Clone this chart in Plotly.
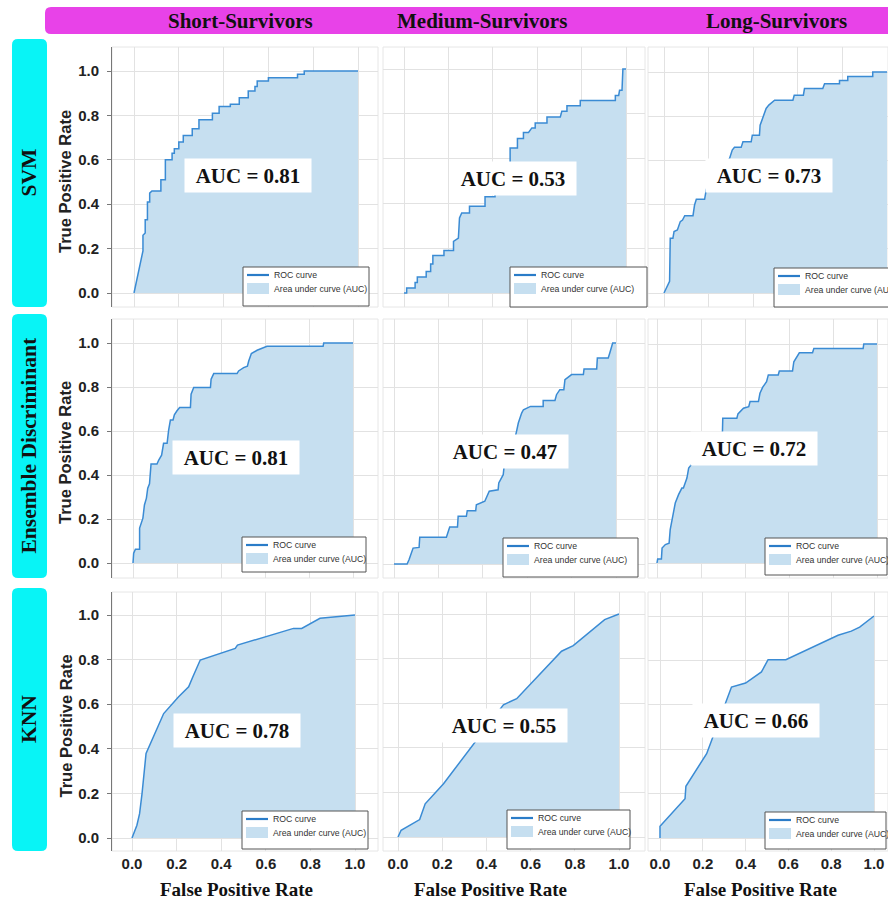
import plotly.graph_objects as go

W, H = 888, 901

# ---------------- data ----------------
row_labels = ["SVM", "Ensemble Discriminant", "KNN"]
col_labels = ["Short-Survivors", "Medium-Survivors", "Long-Survivors"]
auc_values = [[0.81, 0.53, 0.73],
              [0.81, 0.47, 0.72],
              [0.78, 0.55, 0.66]]
tick_vals = [0.0, 0.2, 0.4, 0.6, 0.8, 1.0]
tick_text = ["0.0", "0.2", "0.4", "0.6", "0.8", "1.0"]
x_title = "False Positive Rate"
y_title = "True Positive Rate"
legend_line_label = "ROC curve"
legend_area_label = "Area under curve (AUC)"

# ROC curves as (FPR, TPR) points
svm_short = [(0, 0), (0.04, 0.19), (0.04, 0.26), (0.05, 0.27), (0.05, 0.33), (0.06, 0.33),
             (0.06, 0.41), (0.07, 0.41), (0.07, 0.45), (0.08, 0.46), (0.12, 0.46), (0.12, 0.51),
             (0.14, 0.51), (0.14, 0.60), (0.17, 0.60), (0.17, 0.63), (0.18, 0.63), (0.18, 0.65),
             (0.20, 0.65), (0.20, 0.68), (0.22, 0.68), (0.22, 0.71), (0.26, 0.71), (0.26, 0.74),
             (0.29, 0.74), (0.29, 0.78), (0.35, 0.78), (0.35, 0.81), (0.38, 0.81), (0.38, 0.84),
             (0.43, 0.84), (0.43, 0.85), (0.47, 0.85), (0.47, 0.88), (0.51, 0.88), (0.51, 0.91),
             (0.54, 0.91), (0.54, 0.93), (0.55, 0.93), (0.55, 0.955), (0.60, 0.955), (0.60, 0.97),
             (0.73, 0.97), (0.73, 0.985), (0.76, 0.985), (0.76, 1.0), (1.0, 1.0)]
svm_medium = [(0, 0), (0.012, 0), (0.012, 0.022), (0.05, 0.022), (0.05, 0.047), (0.06, 0.047),
              (0.06, 0.071), (0.10, 0.071), (0.10, 0.096), (0.12, 0.096), (0.12, 0.13), (0.13, 0.13),
              (0.13, 0.167), (0.18, 0.167), (0.18, 0.19), (0.223, 0.19), (0.223, 0.23), (0.245, 0.245),
              (0.25, 0.335), (0.26, 0.357), (0.295, 0.357), (0.295, 0.387), (0.365, 0.387),
              (0.365, 0.43), (0.41, 0.43), (0.41, 0.45), (0.45, 0.45), (0.45, 0.52), (0.478, 0.55),
              (0.478, 0.647), (0.511, 0.647), (0.511, 0.69), (0.538, 0.69), (0.538, 0.717),
              (0.561, 0.717), (0.576, 0.737), (0.591, 0.737), (0.591, 0.759), (0.644, 0.759),
              (0.644, 0.786), (0.704, 0.786), (0.711, 0.811), (0.734, 0.811), (0.734, 0.836),
              (0.794, 0.836), (0.794, 0.859), (0.952, 0.859), (0.952, 0.882), (0.967, 0.882),
              (0.971, 0.905), (0.982, 0.905), (0.986, 1.0), (1.0, 1.0)]
svm_long = [(0, 0), (0.025, 0.053), (0.028, 0.248), (0.04, 0.248), (0.045, 0.278), (0.06, 0.285),
            (0.073, 0.323), (0.083, 0.33), (0.093, 0.35), (0.13, 0.35), (0.137, 0.398),
            (0.145, 0.424), (0.182, 0.424), (0.19, 0.47), (0.22, 0.5), (0.26, 0.55), (0.294, 0.609),
            (0.306, 0.647), (0.316, 0.659), (0.346, 0.659), (0.354, 0.684), (0.391, 0.684),
            (0.396, 0.714), (0.428, 0.714), (0.431, 0.759), (0.443, 0.797), (0.458, 0.835),
            (0.47, 0.85), (0.496, 0.872), (0.578, 0.872), (0.584, 0.895), (0.625, 0.895),
            (0.63, 0.925), (0.712, 0.925), (0.72, 0.947), (0.787, 0.947), (0.787, 0.962),
            (0.824, 0.962), (0.824, 0.98), (0.936, 0.98), (0.936, 1.0), (1.0, 1.0)]
ens_short = [(0, 0), (0.003, 0.045), (0.011, 0.063), (0.03, 0.063), (0.03, 0.159), (0.045, 0.204),
             (0.052, 0.264), (0.061, 0.295), (0.067, 0.34), (0.075, 0.36), (0.082, 0.45),
             (0.109, 0.45), (0.117, 0.468), (0.13, 0.49), (0.139, 0.544), (0.155, 0.544),
             (0.162, 0.604), (0.17, 0.65), (0.182, 0.65), (0.188, 0.674), (0.2, 0.692),
             (0.212, 0.707), (0.261, 0.707), (0.264, 0.767), (0.276, 0.798), (0.352, 0.798),
             (0.355, 0.835), (0.367, 0.861), (0.473, 0.861), (0.48, 0.873), (0.503, 0.888),
             (0.52, 0.895), (0.526, 0.918), (0.538, 0.952), (0.564, 0.967), (0.609, 0.985),
             (0.864, 0.985), (0.867, 1.0), (1.0, 1.0)]
ens_medium = [(0, 0), (0.059, 0), (0.068, 0.02), (0.078, 0.045), (0.086, 0.072), (0.113, 0.075),
              (0.116, 0.121), (0.236, 0.121), (0.244, 0.148), (0.251, 0.167), (0.286, 0.167),
              (0.289, 0.216), (0.326, 0.216), (0.33, 0.241), (0.368, 0.241), (0.371, 0.268),
              (0.409, 0.284), (0.429, 0.329), (0.469, 0.336), (0.472, 0.367), (0.492, 0.404),
              (0.496, 0.442), (0.51, 0.48), (0.53, 0.53), (0.545, 0.57), (0.552, 0.6),
              (0.56, 0.638), (0.575, 0.683), (0.583, 0.698), (0.615, 0.713), (0.672, 0.713),
              (0.672, 0.74), (0.725, 0.74), (0.732, 0.766), (0.747, 0.789), (0.765, 0.789),
              (0.77, 0.834), (0.8, 0.857), (0.853, 0.857), (0.856, 0.882), (0.913, 0.882),
              (0.916, 0.932), (0.965, 0.932), (0.973, 0.958), (0.985, 1.0), (1.0, 1.0)]
ens_long = [(0, 0), (0.003, 0.018), (0.02, 0.018), (0.023, 0.068), (0.038, 0.084), (0.055, 0.09),
            (0.06, 0.152), (0.068, 0.198), (0.083, 0.274), (0.098, 0.312), (0.113, 0.342),
            (0.12, 0.342), (0.136, 0.388), (0.144, 0.433), (0.159, 0.453), (0.2, 0.47),
            (0.22, 0.5), (0.26, 0.55), (0.297, 0.58), (0.299, 0.661), (0.363, 0.661),
            (0.368, 0.681), (0.393, 0.707), (0.417, 0.714), (0.423, 0.737), (0.461, 0.737),
            (0.468, 0.775), (0.48, 0.802), (0.498, 0.828), (0.506, 0.859), (0.551, 0.859),
            (0.556, 0.877), (0.616, 0.877), (0.622, 0.919), (0.647, 0.96), (0.707, 0.96),
            (0.713, 0.98), (0.937, 0.98), (0.94, 1.0), (1.0, 1.0)]
knn_short = [(0, 0), (0.022, 0.057), (0.034, 0.109), (0.045, 0.199), (0.063, 0.379), (0.082, 0.424),
             (0.142, 0.558), (0.209, 0.633), (0.254, 0.678), (0.273, 0.723), (0.306, 0.798),
             (0.463, 0.85), (0.473, 0.865), (0.724, 0.94), (0.761, 0.94), (0.843, 0.985), (1.0, 1.0)]
knn_medium = [(0, 0), (0.014, 0.03), (0.098, 0.078), (0.123, 0.149), (0.206, 0.239), (0.356, 0.436),
              (0.477, 0.593), (0.537, 0.62), (0.74, 0.833), (0.793, 0.858), (0.935, 0.975), (1.0, 1.0)]
knn_long = [(0, 0), (0, 0.053), (0.117, 0.177), (0.121, 0.233), (0.218, 0.38), (0.303, 0.598),
            (0.334, 0.68), (0.40, 0.698), (0.474, 0.748), (0.505, 0.803), (0.588, 0.803),
            (0.832, 0.913), (0.894, 0.932), (0.933, 0.95), (1.0, 1.0)]

curves = [[svm_short, svm_medium, svm_long],
          [ens_short, ens_medium, ens_long],
          [knn_short, knn_medium, knn_long]]

# ---------------- layout geometry (page pixels) ----------------
col_frames = [(112, 378), (383, 645), (648, 888)]
row_frames = [(47, 307), (319, 578), (592, 851)]
# pixel position of FPR=0, FPR=1, TPR=0, TPR=1 in each panel
panel_px = [[(134, 358, 293, 71), (404, 626, 293, 69), (664, 887, 293, 72)],
            [(133, 353, 563, 343), (394, 616, 564, 343), (657, 877, 563, 344)],
            [(132, 355, 838, 615), (398, 619, 837, 614), (660, 874, 838, 616)]]
auc_pos = [[(0.51, 0.53), (0.49, 0.51), (0.47, 0.53)],
           [(0.47, 0.48), (0.50, 0.51), (0.44, 0.525)],
           [(0.47, 0.48), (0.48, 0.50), (0.45, 0.53)]]
legend_boxes = [[(243, 267, 369, 306), (510, 267, 647, 307), (774, 268, 900, 307)],
                [(242, 537, 366, 572), (503, 538, 638, 577), (765, 538, 887, 575)],
                [(242, 811, 368, 849), (507, 810, 630, 849), (765, 812, 886, 849)]]
header_centers = [240, 482, 776]
xtitle_centers = [236, 491, 760]
cyan_boxes = [(12, 39, 47, 307), (12, 314, 47, 578), (12, 588, 47, 851)]

BLUE = "#3a8bd4"
FILL = "#c6dff0"
MAGENTA = "#e842e8"
CYAN = "#08f4f6"
GRID = "#e2e2e2"
SERIF = "Liberation Serif, Times New Roman, serif"
SANS = "Liberation Sans, Arial, sans-serif"


def px(x):
    return x / W


def py(y):
    return 1 - y / H


def rrect_path(x0, y0, x1, y1, r):
    def P(x, y):
        return f"{px(x):.5f},{py(y):.5f}"
    return (f"M {P(x0 + r, y0)} L {P(x1 - r, y0)} Q {P(x1, y0)} {P(x1, y0 + r)} "
            f"L {P(x1, y1 - r)} Q {P(x1, y1)} {P(x1 - r, y1)} L {P(x0 + r, y1)} "
            f"Q {P(x0, y1)} {P(x0, y1 - r)} L {P(x0, y0 + r)} Q {P(x0, y0)} {P(x0 + r, y0)} Z")


def note(x, y, text, font, **kw):
    d = dict(x=px(x), y=py(y), xref="paper", yref="paper", showarrow=False,
             text=text, font=font, xanchor="center", yanchor="middle")
    d.update(kw)
    return d


fig = go.Figure()
shapes = []
annotations = []
layout = {}

for r in range(3):
    for c in range(3):
        n = r * 3 + c + 1
        xname = "xaxis" if n == 1 else f"xaxis{n}"
        yname = "yaxis" if n == 1 else f"yaxis{n}"
        xref = "x" if n == 1 else f"x{n}"
        yref = "y" if n == 1 else f"y{n}"
        fl, fr = col_frames[c]
        ft, fb = row_frames[r]
        x0p, x1p, y0p, y1p = panel_px[r][c]
        fr_eff = min(fr, W)
        xr = [(fl - x0p) / (x1p - x0p), (fr_eff - x0p) / (x1p - x0p)]
        yr = [(y0p - fb) / (y0p - y1p), (y0p - ft) / (y0p - y1p)]
        layout[xname] = dict(
            domain=[px(fl), px(fr_eff)], range=xr, anchor=yref,
            tickvals=tick_vals, ticktext=tick_text, showgrid=True, gridcolor=GRID,
            gridwidth=1, zeroline=False, showline=False, ticks="",
            showticklabels=(r == 2), ticklabelstandoff=2,
            tickfont=dict(family=SANS, size=15, color="#222", weight="bold"), fixedrange=True)
        layout[yname] = dict(
            domain=[py(fb), py(ft)], range=yr, anchor=xref,
            tickvals=tick_vals, ticktext=tick_text, showgrid=True, gridcolor=GRID,
            gridwidth=1, zeroline=False, showline=(c == 0), linecolor="#777", linewidth=1,
            ticks="outside" if c == 0 else "", ticklen=4, tickcolor="#777",
            showticklabels=(c == 0), ticklabelstandoff=5,
            tickfont=dict(family=SANS, size=15, color="#222", weight="bold"), fixedrange=True)

        pts = curves[r][c]
        fig.add_trace(go.Scatter(
            x=[p[0] for p in pts], y=[p[1] for p in pts], mode="lines",
            line=dict(color=BLUE, width=1.5), fill="tozeroy", fillcolor=FILL,
            xaxis=xref, yaxis=yref, showlegend=False, hoverinfo="skip"))

        # panel frame
        shapes.append(dict(type="rect", xref="paper", yref="paper",
                           x0=px(fl), x1=px(fr_eff), y0=py(fb), y1=py(ft),
                           line=dict(color="#e6e6e6", width=1), layer="below"))

        # AUC label
        ax, ay = auc_pos[r][c]
        annotations.append(dict(
            x=ax, y=ay, xref=xref, yref=yref, showarrow=False,
            xanchor="center", yanchor="middle",
            text=f"<b>AUC = {auc_values[r][c]:.2f}</b>",
            font=dict(family=SERIF, size=21, color="#111"),
            bgcolor="white", width=120, height=27, borderpad=3))

        # legend box
        lx0, ly0, lx1, ly1 = legend_boxes[r][c]
        shapes.append(dict(type="rect", xref="paper", yref="paper",
                           x0=px(lx0), x1=px(lx1), y0=py(ly1), y1=py(ly0),
                           fillcolor="white", line=dict(color="#555", width=1)))
        shapes.append(dict(type="line", xref="paper", yref="paper",
                           x0=px(lx0 + 4), x1=px(lx0 + 26), y0=py(ly0 + 8), y1=py(ly0 + 8),
                           line=dict(color="#2a7cc8", width=2.2)))
        shapes.append(dict(type="rect", xref="paper", yref="paper",
                           x0=px(lx0 + 4), x1=px(lx0 + 26), y0=py(ly0 + 27), y1=py(ly0 + 16),
                           fillcolor=FILL, line=dict(width=0)))
        annotations.append(note(lx0 + 29, ly0 + 8, legend_line_label,
                                dict(family=SANS, size=8.7, color="#333"), xanchor="left"))
        annotations.append(note(lx0 + 29, ly0 + 22, legend_area_label,
                                dict(family=SANS, size=8.7, color="#333"), xanchor="left"))

# header bar
shapes.append(dict(type="path", xref="paper", yref="paper",
                   path=rrect_path(45, 7, 900, 34, 6), fillcolor=MAGENTA,
                   line=dict(width=0)))
for c in range(3):
    annotations.append(note(header_centers[c], 21, f"<b>{col_labels[c]}</b>",
                            dict(family=SERIF, size=21, color="#111")))

# row label boxes
for r in range(3):
    x0, y0, x1, y1 = cyan_boxes[r]
    shapes.append(dict(type="path", xref="paper", yref="paper",
                       path=rrect_path(x0, y0, x1, y1, 6), fillcolor=CYAN,
                       line=dict(width=0)))
    annotations.append(note((x0 + x1) / 2 - 1, (y0 + y1) / 2, f"<b>{row_labels[r]}</b>",
                            dict(family=SERIF, size=21.5, color="#111"), textangle=-90))
    yc = (panel_px[r][0][2] + panel_px[r][0][3]) / 2
    annotations.append(note(65, yc, f"<b>{y_title}</b>",
                            dict(family=SANS, size=16.5, color="#222"), textangle=-90))

# x axis titles
for c in range(3):
    annotations.append(note(xtitle_centers[c], 889, f"<b>{x_title}</b>",
                            dict(family=SERIF, size=19, color="#111")))

fig.update_layout(
    width=W, height=H, margin=dict(l=0, r=0, t=0, b=0),
    paper_bgcolor="white", plot_bgcolor="white",
    shapes=shapes, annotations=annotations, showlegend=False, **layout)

fig.write_html("out.html", config={"displayModeBar": False},
               post_script="document.body.style.margin='0';document.body.style.overflow='hidden';")
